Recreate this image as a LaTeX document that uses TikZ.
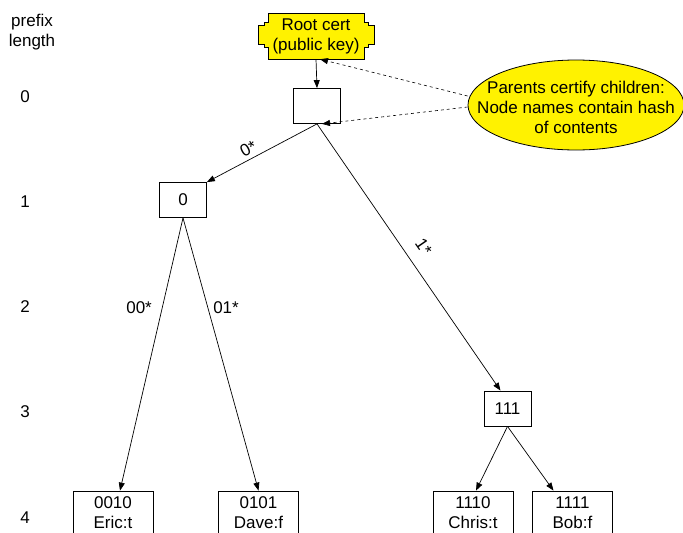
\documentclass[tikz,border=0pt]{standalone}
\usepackage{fontspec}
\setmainfont{Liberation Sans}
\usetikzlibrary{shapes.geometric,arrows.meta}

\begin{document}
\begin{tikzpicture}
 [x=1pt,y=-1pt,every node/.style={font=\fontsize{17}{20}\selectfont,inner sep=2pt,align=center},
  box/.style={draw,line width=.8pt,minimum width=47pt,minimum height=35pt},
  leaf/.style={draw,line width=.8pt,minimum width=80pt,minimum height=43pt},
  edge/.style={line width=.7pt,-{Triangle[length=8pt,width=6pt]}},
  certify/.style={dashed,line width=.6pt,-{Triangle[length=8pt,width=6pt]}}]
  \useasboundingbox (0,0) rectangle (683,533);
  % prefix lengths
  \node (prefix) at (32,32) {prefix\\length};
  \foreach \l/\y in {0/97,1/202,2/307,3/412,4/518}
    \node (lvl\l) at (25,\y) {\l};
  % root cert
  \filldraw[fill=yellow,line width=.8pt] (268,13) -- (364,13) -- (364,22) -- (368,22) -- (368,25) -- (374,25)
    -- (374,44) -- (368,44) -- (368,47) -- (364,47) -- (364,59) -- (268,59) -- (268,47) -- (264,47)
    -- (264,44) -- (258,44) -- (258,25) -- (264,25) -- (264,22) -- (268,22) -- cycle;
  \node[inner sep=0pt,minimum width=116pt,minimum height=46pt] (cert) at (316,36) {Root cert\\(public key)};
  \node[box] (root) at (317,106) {};
  \node[box] (zero) at (183,200) {0};
  \node[box] (r111) at (507.5,408.5) {111};
  \node[leaf] (eric) at (113,512.5) {0010\\Eric:t};
  \node[leaf] (dave) at (258.5,512.5) {0101\\Dave:f};
  \node[leaf] (chris) at (473,512.5) {1110\\Chris:t};
  \node[leaf] (bob) at (572.5,512.5) {1111\\Bob:f};
  % note
  \node[ellipse,draw,fill=yellow,line width=.8pt,minimum width=216pt,minimum height=90pt] (note) at (576,105) {};
  \node (notetext) at (576,107) {Parents certify children:\\Node names contain hash\\of contents};
  \draw[certify] ([yshift=9pt]note.west) -- ([xshift=4pt]cert.south);
  \draw[certify] ([yshift=-2pt]note.west) -- ([xshift=5pt]root.south);
  % tree
  \draw[edge] (cert.south) -- (root.north);
  \draw[edge] (root.south) -- (zero.north east) node[pos=.58,sloped,above=2pt] {0*};
  \draw[edge] (root.south) -- ([xshift=-7pt]r111.north) node[pos=.5,sloped,above=10pt] {1*};
  \draw[edge] (zero.south) -- ([xshift=7pt]eric.north) node[pos=.33,left=8pt] {00*};
  \draw[edge] (zero.south) -- (dave.north) node[pos=.33,right=3pt] {01*};
  \draw[edge] (r111.south) -- ([xshift=3pt]chris.north);
  \draw[edge] (r111.south) -- ([xshift=-19pt]bob.north);
\end{tikzpicture}
\end{document}
